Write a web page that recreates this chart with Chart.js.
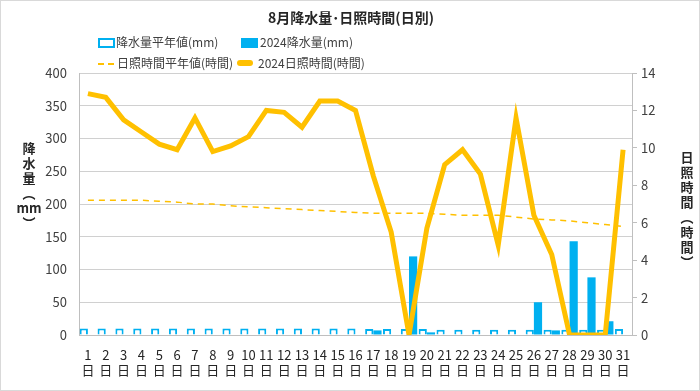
<!DOCTYPE html>
<html>
<head>
<meta charset="utf-8">
<script src="https://cdn.jsdelivr.net/npm/chart.js"></script>
<style>
  body { margin: 0; background: #fff; }
  #wrap { position: relative; width: 700px; height: 391px; box-sizing: border-box; border: 1px solid #d9d9d9; font-family: "Noto Sans CJK JP", sans-serif; color: #404040; }
  #wrap canvas { position: absolute; left: -1px; top: -1px; }
  .title { position: absolute; left: 0; width: 700px; top: 6px; text-align: center; font-size: 14px; font-weight: bold; color: #262626; }
  .leg { position: absolute; font-size: 12px; white-space: nowrap; line-height: 14px; }
  .sw { position: absolute; }
  .vt { position: absolute; width: 30px; text-align: center; font-size: 13px; font-weight: bold; color: #262626; line-height: 15px; }
  .vt div { height: 15px; }
</style>
</head>
<body>
<div id="wrap">
  <canvas id="c" width="700" height="391"></canvas>
  <div class="title">8月降水量･日照時間(日別)</div>

  <div class="sw" style="left:97px;top:37px;width:13px;height:6px;border:2px solid #00b0f0;background:#fff"></div>
  <div class="leg" style="left:115px;top:34px">降水量平年値(mm)</div>
  <div class="sw" style="left:240px;top:37px;width:17px;height:10px;background:#00b0f0"></div>
  <div class="leg" style="left:259px;top:34px">2024降水量(mm)</div>

  <div class="sw" style="left:97px;top:62px;width:16px;border-top:2px dashed #ffc000"></div>
  <div class="leg" style="left:116px;top:55px">日照時間平年値(時間)</div>
  <div class="sw" style="left:236px;top:59px;width:16px;height:6px;border-radius:3px;background:#ffc000"></div>
  <div class="leg" style="left:257px;top:55px">2024日照時間(時間)</div>

  <div class="vt" style="left:13px;top:139px"><div>降</div><div>水</div><div>量</div><div>︵</div><div>mm</div><div>︶</div></div>
  <div class="vt" style="left:671px;top:148px"><div>日</div><div>照</div><div>時</div><div>間</div><div>︵</div><div>時</div><div>間</div><div>︶</div></div>
</div>
<script>
const days = ['1','2','3','4','5','6','7','8','9','10','11','12','13','14','15','16','17','18','19','20','21','22','23','24','25','26','27','28','29','30','31'];
const rainNormal = [10,10,10,10,10,10,10,10,10,10,10,10,10,10,10,10,9,9,9,9,8,8,8,8,8,8,8,8,8,8,9];
const rain2024 = [0,0,0,0,0,0,0,0,0,0,0,0,0,0,0,0,7,0,120,4,0,0,0,0,0,50,7,143,88,21,0];
const sunNormal = [7.2,7.2,7.2,7.2,7.15,7.1,7.0,7.0,6.9,6.85,6.8,6.75,6.7,6.65,6.6,6.55,6.5,6.5,6.5,6.5,6.45,6.4,6.4,6.4,6.3,6.2,6.15,6.1,6.0,5.9,5.8];
const sun2024 = [12.9,12.7,11.5,10.85,10.2,9.9,11.6,9.8,10.1,10.6,12.0,11.9,11.1,12.5,12.5,12.0,8.5,5.5,0,5.7,9.1,9.9,8.6,4.8,11.6,6.4,4.3,0,0,0,9.9];
const rainTicks = [0,50,100,150,200,250,300,350,400];
const sunTicks = [0,2,4,6,8,10,12,14];

const tickFont = { family: "'Noto Sans CJK JP', sans-serif", size: 13 };

new Chart(document.getElementById('c'), {
  type: 'bar',
  data: {
    labels: days.map(d => [d, '日']),
    datasets: [
      { type: 'line', label: '2024日照時間(時間)', data: sun2024, yAxisID: 'y2', borderColor: '#ffc000', borderWidth: 5, pointRadius: 0, tension: 0, order: 1 },
      { type: 'line', label: '日照時間平年値(時間)', data: sunNormal, yAxisID: 'y2', borderColor: '#ffc000', borderWidth: 1.5, borderDash: [6, 5], pointRadius: 0, tension: 0, order: 2 },
      { label: '降水量平年値(mm)', data: rainNormal, yAxisID: 'y', backgroundColor: '#ffffff', borderColor: '#00b0f0', borderWidth: 2, order: 3, categoryPercentage: 0.92, barPercentage: 1.0 },
      { label: '2024降水量(mm)', data: rain2024, yAxisID: 'y', backgroundColor: '#00b0f0', borderWidth: 0, order: 4, categoryPercentage: 0.92, barPercentage: 1.0 }
    ]
  },
  options: {
    responsive: false,
    animation: false,
    layout: { padding: { top: 73, left: 0, right: 0, bottom: 0 } },
    plugins: { legend: { display: false }, title: { display: false }, tooltip: { enabled: false } },
    scales: {
      x: {
        grid: { display: false },
        border: { display: true, color: '#bfbfbf' },
        ticks: { color: '#262626', font: tickFont, maxRotation: 0, autoSkip: false, padding: 4 },
        afterFit: s => { s.height = 391 - 335; }
      },
      y: {
        position: 'left', min: 0, max: 400,
        afterBuildTicks: s => { s.ticks = rainTicks.map(v => ({ value: v })); },
        grid: { color: '#d0d0d0', drawTicks: false },
        border: { display: true, color: '#bfbfbf' },
        ticks: { color: '#404040', font: tickFont, padding: 12 },
        afterFit: s => { s.width = 79; }
      },
      y2: {
        position: 'right', min: 0, max: 14,
        afterBuildTicks: s => { s.ticks = sunTicks.map(v => ({ value: v })); },
        grid: { drawOnChartArea: false, color: '#bfbfbf', tickLength: 5 },
        border: { display: true, color: '#bfbfbf' },
        ticks: { color: '#404040', font: tickFont, padding: 4 },
        afterFit: s => { s.width = 700 - 632; }
      }
    }
  }
});
</script>
</body>
</html>
